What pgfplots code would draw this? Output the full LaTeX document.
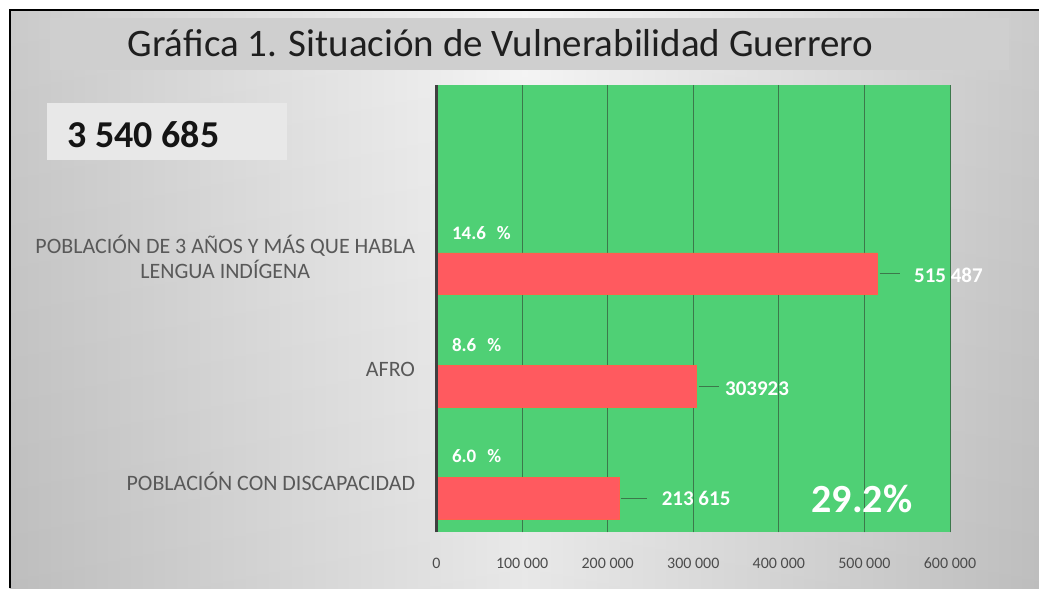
\documentclass[border=0pt]{standalone}
\usepackage{pgfplots}
\pgfplotsset{compat=1.18}
\usepackage{fontspec}
\setmainfont{Carlito}
\definecolor{bggray}{RGB}{200,200,200}
\definecolor{plotgreen}{RGB}{79,208,117}
\definecolor{barred}{RGB}{255,90,95}
\definecolor{gridg}{RGB}{60,120,75}
\definecolor{labgray}{RGB}{89,89,89}
\begin{document}
\begin{tikzpicture}[x=1pt,y=1pt]
% canvas
\fill[white] (0,0) rectangle (1040,589);
\shade[left color=bggray, right color=bggray, middle color=white!96!black] (10,0) rectangle (1040,579);
\shade[top color=white, bottom color=black, opacity=0.05] (10,0) rectangle (1040,579);
\draw[black, line width=2.2pt] (10,0) -- (10,579) -- (1040,579);
% title box
\fill[gray!38] (50,519) rectangle (1010,571);
\node[text=black!88, font=\fontsize{39}{42}\selectfont] at (501,546) {Gráfica 1. Situación de Vulnerabilidad Guerrero};
% number box
\fill[gray!18] (47,429) rectangle (287,486);
\node[anchor=west, font=\fontsize{38}{42}\selectfont\bfseries, text=black!92] at (64,454) {3 540 685};
\begin{axis}[
  at={(437pt,56pt)}, anchor=south west,
  width=514pt, height=448pt, scale only axis,
  xmin=0, xmax=600000, ymin=-0.30, ymax=3.68,
  scaled x ticks=false,
  axis background/.style={fill=plotgreen},
  axis line style={draw=none},
  xbar, bar width=42pt,
  xtick={0,100000,200000,300000,400000,500000,600000},
  xticklabels={0,100 000,200 000,300 000,400 000,500 000,600 000},
  xticklabel style={font=\fontsize{16}{18}\selectfont, text=labgray!85!black, yshift=-22pt},
  ytick={0,1,2},
  yticklabels={POBLACIÓN CON DISCAPACIDAD, AFRO, {POBLACIÓN DE 3 AÑOS Y MÁS QUE HABLA\\LENGUA INDÍGENA}},
  yticklabel style={font=\fontsize{22}{25}\selectfont, text=labgray, align=center, yshift=17pt, xshift=-18pt},
  xmajorgrids, major grid style={draw=gridg, line width=0.8pt},
  major tick length=0pt,
  clip=false,
]
\addplot[draw=barred!80!orange, line width=0.6pt, fill=barred] coordinates {(213615,0) (303923,1) (515487,2)};
\draw[black!75, line width=2.6pt] (axis cs:0,-0.30) -- (axis cs:0,3.68);
% leader lines
\draw[gridg, line width=0.8pt] (axis cs:515487,2) ++(2pt,0pt) -- ++(20pt,0pt);
\draw[gridg, line width=0.8pt] (axis cs:303923,1) ++(2pt,0pt) -- ++(20pt,0pt);
\draw[gridg, line width=0.8pt] (axis cs:213615,0) ++(2pt,0pt) -- ++(26pt,0pt);
% value labels
\node[anchor=west, text=white, font=\fontsize{21}{23}\selectfont\bfseries] at (axis cs:515487,2) [xshift=33pt, yshift=-2pt] {515 487};
\node[anchor=west, text=white, font=\fontsize{21}{23}\selectfont\bfseries] at (axis cs:303923,1) [xshift=25pt, yshift=-2pt] {303923};
\node[anchor=west, text=white, font=\fontsize{21}{23}\selectfont\bfseries] at (axis cs:213615,0) [xshift=39pt, yshift=0pt] {213 615};
% percentages
\node[anchor=west, text=white, font=\fontsize{19}{21}\selectfont\bfseries] at (axis cs:0,2.36) [xshift=12pt] {14.6\hspace{11pt}\%};
\node[anchor=west, text=white, font=\fontsize{19}{21}\selectfont\bfseries] at (axis cs:0,1.37) [xshift=12pt] {8.6\hspace{11pt}\%};
\node[anchor=west, text=white, font=\fontsize{19}{21}\selectfont\bfseries] at (axis cs:0,0.38) [xshift=12pt] {6.0\hspace{11pt}\%};
\node[text=white, font=\fontsize{40}{44}\selectfont\bfseries] at (axis cs:497000,0) {29.2\%};
\end{axis}
\end{tikzpicture}
\end{document}
